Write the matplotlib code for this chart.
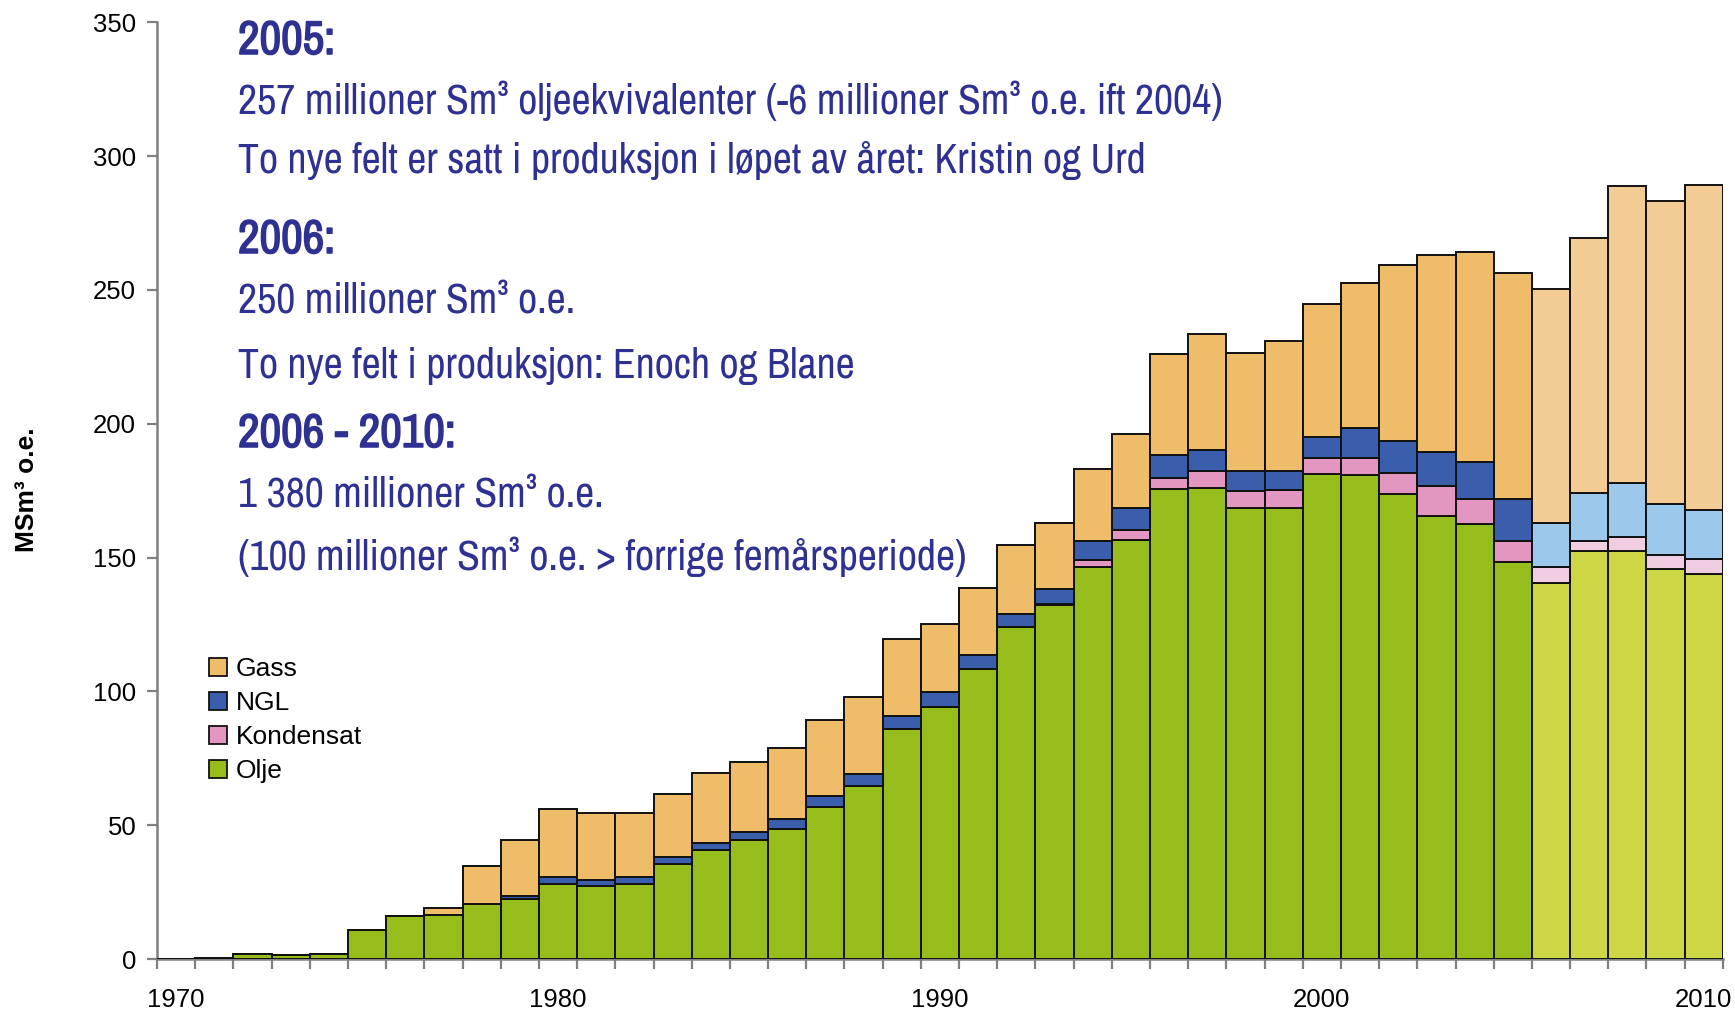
import matplotlib
matplotlib.use("Agg")
import matplotlib.pyplot as plt
import matplotlib.patheffects as pe
from matplotlib.patches import Patch
from matplotlib import font_manager as fm
from matplotlib.font_manager import FontProperties
import numpy as np

years = list(range(1970, 2011))
olje = [0, 0.3, 1.9, 1.6, 1.9, 10.9, 16.2, 16.5, 20.6, 22.3,
        28.1, 27.3, 28.1, 35.4, 40.7, 44.5, 48.6, 56.8, 64.6, 85.8,
        94.2, 108.4, 124.1, 132.3, 146.3, 156.7, 175.6, 175.9, 168.7, 168.7,
        181.2, 180.8, 173.6, 165.6, 162.7, 148.2, 140.6, 152.6, 152.6, 145.6,
        143.7]
kondensat = [0, 0, 0, 0, 0, 0, 0, 0, 0, 0,
             0, 0, 0, 0, 0, 0, 0, 0, 0, 0,
             0, 0, 0, 0.3, 2.7, 3.7, 4.3, 6.6, 6.1, 6.4,
             6.0, 6.4, 8.0, 11.1, 9.3, 8.1, 6.0, 3.7, 5.1, 5.3,
             5.6]
ngl = [0, 0, 0, 0, 0, 0, 0, 0, 0, 1.4,
       2.6, 2.4, 2.6, 2.7, 2.7, 3.1, 3.8, 4.0, 4.7, 5.0,
       5.4, 5.1, 4.9, 5.5, 7.3, 8.2, 8.4, 7.8, 7.5, 7.2,
       7.9, 11.4, 12.0, 12.8, 13.8, 15.7, 16.3, 17.9, 20.0, 19.2,
       18.5]
gass = [0, 0, 0, 0, 0, 0, 0, 2.6, 14.2, 20.6,
        25.2, 24.9, 23.9, 23.6, 26.2, 26.1, 26.3, 28.4, 28.5, 28.9,
        25.5, 25.1, 25.8, 24.9, 26.8, 27.7, 37.6, 43.1, 44.1, 48.6,
        49.6, 54.0, 65.6, 73.4, 78.5, 84.5, 87.4, 95.1, 111.0, 113.0,
        121.3]
first_forecast_year = 2006
series_names = ["Gass", "NGL", "Kondensat", "Olje"]
xtick_years = [1970, 1980, 1990, 2000, 2010]
yticks = [0, 50, 100, 150, 200, 250, 300, 350]

hist_colors = {"Olje": "#97BD1D", "Kondensat": "#E396BF", "NGL": "#3A5DAC", "Gass": "#EFBD6A"}
fc_colors = {"Olje": "#CDD645", "Kondensat": "#F0CDE0", "NGL": "#9CC8EC", "Gass": "#F3CB94"}

base = "Liberation Sans"
plt.rcParams['font.family'] = [base, 'DejaVu Sans']


def _w(e):
    w = e.weight
    if isinstance(w, str):
        return 700 if 'bold' in w.lower() else 400
    return int(w)


def pick_fonts():
    entries = [e for e in fm.fontManager.ttflist if e.style == 'normal']
    order = {"Roboto": 2, "Noto Sans": 3, "Open Sans": 4, "Liberation Sans": 5, "DejaVu Sans": 6}
    cands = []
    for e in entries:
        if not (350 <= _w(e) <= 500):
            continue
        n, st = e.name, str(e.stretch)
        score = None
        if n == "Liberation Sans Narrow":
            score = 0
        elif "Narrow" in n or "Condensed" in n:
            score = 1
        elif (st in ("condensed", "semi-condensed") or "Condensed" in e.fname) and n in order:
            score = order[n] + (0.5 if st == "semi-condensed" else 0)
        if score is not None:
            cands.append((score, e))
    if not cands:
        return (FontProperties(family=base), FontProperties(family=base, weight='bold'), True)
    cands.sort(key=lambda c: c[0])
    reg = cands[0][1]
    bolds = [e for e in entries if e.name == reg.name and str(e.stretch) == str(reg.stretch)
             and 600 <= _w(e) <= 800]
    bolds.sort(key=lambda e: abs(_w(e) - 700))
    if bolds:
        return FontProperties(fname=reg.fname), FontProperties(fname=bolds[0].fname), True
    return FontProperties(fname=reg.fname), FontProperties(fname=reg.fname), False


fp_reg, fp_bold, real_bold = pick_fonts()

fig = plt.figure(figsize=(17.35, 10.14), dpi=100)
ax = fig.add_axes([0.0905, 0.0542, 0.9025, 0.9238])

x = np.arange(len(years))
bottom = np.zeros(len(years))
data = {"Olje": olje, "Kondensat": kondensat, "NGL": ngl, "Gass": gass}
for name in ["Olje", "Kondensat", "NGL", "Gass"]:
    vals = np.array(data[name], dtype=float)
    cols = [fc_colors[name] if y >= first_forecast_year else hist_colors[name] for y in years]
    ax.bar(x, vals, width=1.0, bottom=bottom, color=cols, edgecolor="#111111",
           linewidth=1.4, zorder=3)
    bottom += vals

ax.set_xlim(-0.5, len(years) - 0.5)
ax.set_ylim(0, 350)
ax.set_yticks(yticks)
ax.set_yticklabels([str(v) for v in yticks], fontsize=18.5)
ax.set_xticks([years.index(y) for y in xtick_years])
ax.set_xticklabels([str(y) for y in xtick_years], fontsize=18.5)
ax.set_xticks(np.arange(len(years) + 1) - 0.5, minor=True)
ax.tick_params(axis='x', which='major', length=0, pad=21)
ax.tick_params(axis='x', which='minor', length=7, color='#808080', width=1.6)
ax.tick_params(axis='y', length=7, color='#808080', width=1.6, pad=8)
for s in ["top", "right"]:
    ax.spines[s].set_visible(False)
for s in ["left", "bottom"]:
    ax.spines[s].set_color('#808080')
    ax.spines[s].set_linewidth(1.8)

fig.text(27 / 1735, 1 - 490 / 1014, "MSm³ o.e.", rotation=90, fontsize=19,
         fontweight='bold', ha='center', va='center')

handles = [Patch(facecolor=hist_colors[n], edgecolor='#111111', linewidth=1.3) for n in series_names]
fig.legend(handles, series_names, loc='upper left', bbox_to_anchor=(209 / 1735, 1 - 657 / 1014),
           frameon=False, fontsize=19, handlelength=0.7, handleheight=0.7,
           labelspacing=0.38, handletextpad=0.3, borderaxespad=0, borderpad=0)

tc = "#2E3192"
lines = [
    ("2005:", 54, True),
    ("257 millioner Sm³ oljeekvivalenter (-6 millioner Sm³ o.e. ift 2004)", 114, False),
    ("To nye felt er satt i produksjon i løpet av året: Kristin og Urd", 173, False),
    ("2006:", 253, True),
    ("250 millioner Sm³ o.e.", 313, False),
    ("To nye felt i produksjon: Enoch og Blane", 378, False),
    ("2006 - 2010:", 447, True),
    ("1 380 millioner Sm³ o.e.", 508, False),
    ("(100 millioner Sm³ o.e. > forrige femårsperiode)", 570, False),
]
texts = []
for txt, ypx, bold in lines:
    t = fig.text(238 / 1735, 1 - ypx / 1014, txt,
                 fontproperties=(fp_bold if bold else fp_reg).copy(),
                 color=tc, ha='left', va='baseline')
    t.set_fontsize(32 if bold else 27)
    if bold and not real_bold:
        t.set_path_effects([pe.withStroke(linewidth=1.1, foreground=tc)])
    texts.append((t, bold))

# fit annotation widths to the reference line widths
renderer = fig.canvas.get_renderer()
target = {False: (1, 987.0), True: (6, 218.0)}
scale = {}
for b, (idx, tw) in target.items():
    w = texts[idx][0].get_window_extent(renderer).width
    scale[b] = min(tw / w, 1.6)
for t, b in texts:
    t.set_fontsize(t.get_fontsize() * scale[b])

fig.savefig("out.png", dpi=100, facecolor='white')
